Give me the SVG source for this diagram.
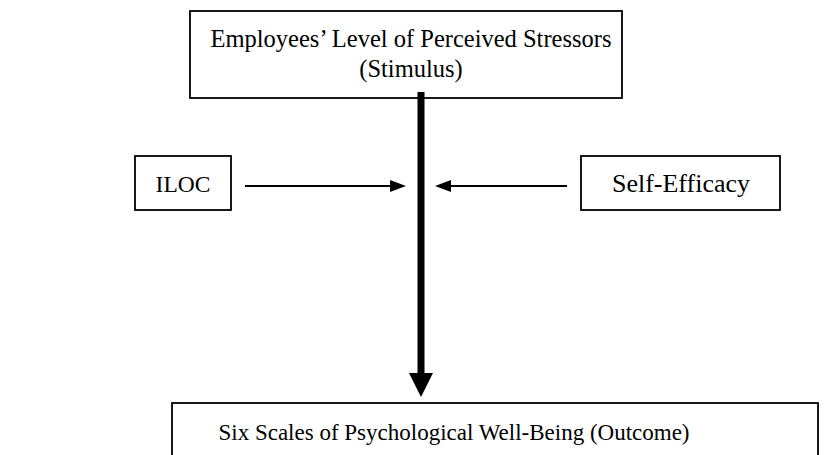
<svg xmlns="http://www.w3.org/2000/svg" width="833" height="455" viewBox="0 0 833 455">
<style>
.box{fill:#fff;stroke:#000;stroke-width:1.8}
.t{font-family:"Liberation Serif","Times New Roman",serif;font-size:24.5px;fill:#000;text-anchor:middle}
.thin{stroke:#000;stroke-width:2;fill:none}
</style>
<rect width="833" height="455" fill="#fff"/>
<g id="stimulus">
<rect class="box" x="190" y="11" width="432" height="87"/>
<text class="t" x="411" y="47">Employees’ Level of Perceived Stressors</text>
<text class="t" x="411" y="77">(Stimulus)</text>
</g>
<g id="iloc">
<rect class="box" x="135" y="156" width="96" height="54"/>
<text class="t" x="183" y="192" style="font-size:23.5px">ILOC</text>
</g>
<g id="selfefficacy">
<rect class="box" x="581" y="156" width="199" height="54"/>
<text class="t" x="681" y="192" style="font-size:26px">Self-Efficacy</text>
</g>
<g id="outcome">
<rect class="box" x="172" y="403" width="646" height="80"/>
<text class="t" x="454" y="440" style="font-size:23px">Six Scales of Psychological Well-Being (Outcome)</text>
</g>
<g id="connectors">
<line x1="421" y1="92" x2="421" y2="374" stroke="#000" stroke-width="7"/>
<path d="M409,373 L433,373 L421,397 Z" fill="#000"/>
<line class="thin" x1="245" y1="186" x2="391" y2="186"/>
<path d="M390,180 L406,186 L390,192 Z" fill="#000"/>
<line class="thin" x1="567" y1="186" x2="450" y2="186"/>
<path d="M451,180 L435,186 L451,192 Z" fill="#000"/>
</g>
</svg>
